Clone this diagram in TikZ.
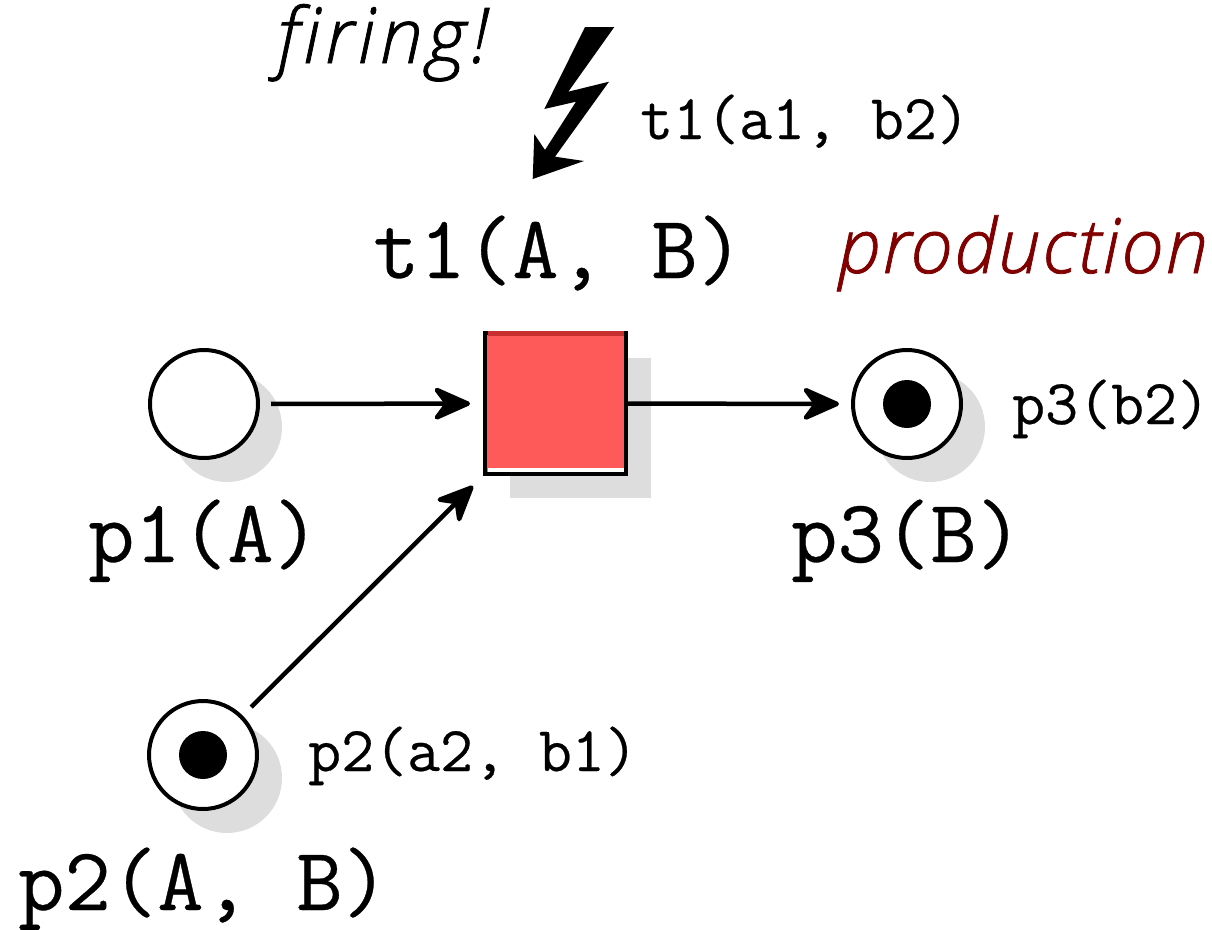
\documentclass[tikz,border=0pt]{standalone}
\usepackage{fontspec}
\setmonofont[FakeBold=0.35]{Latin Modern Mono}
\newfontfamily\firingfont[Ligatures=NoCommon,LetterSpace=5.5,ItalicFont={Open Sans Light Italic},ItalicFeatures={FakeBold=1,LetterSpace=5.5}]{Open Sans}
\newfontfamily\prodfont[Ligatures=NoCommon,LetterSpace=2.5,ItalicFont={Open Sans Light Italic},ItalicFeatures={FakeBold=1,LetterSpace=2.5}]{Open Sans}
\usetikzlibrary{arrows.meta}
\definecolor{shadowgray}{HTML}{DDDDDD}
\definecolor{transred}{HTML}{FF5A5A}
\definecolor{topred}{HTML}{C83030}
\definecolor{prodred}{HTML}{800000}
\tikzset{
  place/.style={circle,draw=black,fill=white,line width=4pt,minimum size=108pt,inner sep=0pt,outer sep=0pt},
  shadowdisc/.style={circle,fill=shadowgray,minimum size=110pt,inner sep=0pt,outer sep=0pt},
  token/.style={circle,fill=black,minimum size=48pt,inner sep=0pt,outer sep=0pt},
  arc/.style={-{Stealth[length=43pt,width=38pt,inset=14pt,round]},line width=4.5pt},
  biglabel/.style={anchor=base west,inner sep=0pt,font=\fontsize{90}{90}\selectfont\ttfamily},
  smalllabel/.style={anchor=base west,inner sep=0pt,font=\fontsize{64}{64}\selectfont\ttfamily},
  handlabel/.style={anchor=base west,inner sep=0pt}
}
\begin{document}
\begin{tikzpicture}[x=1pt,y=-1pt]
\useasboundingbox (0,0) rectangle (1212,929);
% shadows
\node[shadowdisc] (s1) at (227,427) {};
\node[shadowdisc] (s2) at (227,778) {};
\node[shadowdisc] (s3) at (930,427) {};
\fill[shadowgray] (510,358) rectangle (651,498);
% transition
\node[draw=black,fill=transred,line width=4.5pt,minimum width=141pt,minimum height=141pt,inner sep=0pt,outer sep=0pt] (t1) at (555.5,403.5) {};
\fill[topred] (488,331) rectangle (624,335.5);
\fill[white] (488,468) rectangle (624,472);
% places
\node[place] (p1) at (204,404) {};
\node[place] (p2) at (203,755) {};
\node[place] (p3) at (907,404) {};
\node[token] (k2) at (p2) {};
\node[token] (k3) at (p3) {};
% arcs
\draw[arc,shorten <=13pt,shorten >=15pt] (p1) -- (t1);
\draw[arc,shorten >=14pt] (t1) -- (p3);
\draw[arc,shorten <=14pt,shorten >=17pt] (p2) -- (t1.south west);
% lightning
\fill[black] (585,27) -- (614.3,27) -- (568.3,91.7) -- (609,81.7) -- (555,156.7) -- (584,161) -- (532.7,179) -- (534.3,134) -- (545,150) -- (576,101.7) -- (544.3,109) -- cycle;
% labels
\node[handlabel,font=\fontsize{77}{77}\selectfont\firingfont\itshape] (firing) at (277,63) {firing!};
\node[handlabel,text=prodred,font=\fontsize{76}{76}\selectfont\prodfont\itshape] (production) at (838,273) {production};
\node[smalllabel] (lt1) at (640,139) {t1(a1, b2)};
\node[biglabel] (nt1) at (373,278) {t1(A, B)};
\node[biglabel] (np1) at (88,562) {p1(A)};
\node[biglabel] (np3) at (791,562) {p3(B)};
\node[biglabel] (np2) at (18,910) {p2(A, B)};
\node[smalllabel] (lp2) at (308,771) {p2(a2, b1)};
\node[smalllabel] (lp3) at (1012,424) {p3(b2)};
\end{tikzpicture}
\end{document}
